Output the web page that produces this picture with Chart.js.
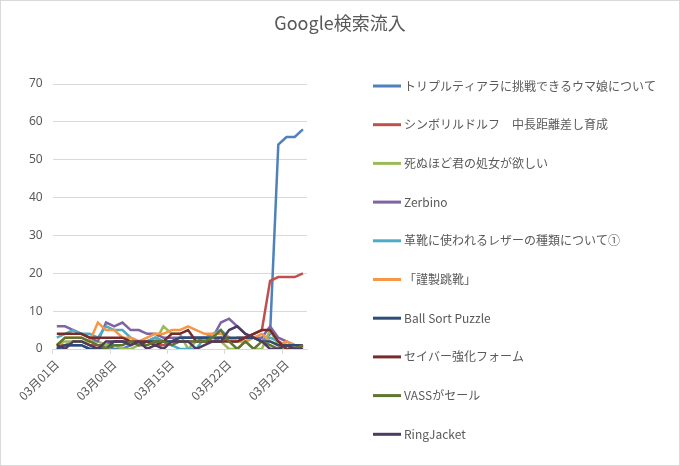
<!DOCTYPE html>
<html lang="ja">
<head>
    <meta charset="UTF-8">
    <title>Google検索流入</title>
    <script src="https://cdn.jsdelivr.net/npm/chart.js"></script>
    <style>
        body { margin: 0; background: #fff; }
        #wrap { width: 680px; height: 466px; position: relative; box-sizing: border-box; border: 1px solid #d9d9d9; }
    </style>
</head>
<body>
    <div id="wrap"><canvas id="searchChart"></canvas></div>

    <script>
        // dates on the x axis
        var days = [];
        for (var d = 1; d <= 31; d++) days.push('03月' + (d < 10 ? '0' + d : d) + '日');

        var chartTitle = 'Google検索流入';

        var seriesNames = [
            'トリプルティアラに挑戦できるウマ娘について',
            'シンボリルドルフ　中長距離差し育成',
            '死ぬほど君の処女が欲しい',
            'Zerbino',
            '革靴に使われるレザーの種類について①',
            '「謹製跳靴」',
            'Ball Sort Puzzle',
            'セイバー強化フォーム',
            'VASSがセール',
            'RingJacket'
        ];
        var seriesColors = ['#4F81BD', '#C0504D', '#9BBB59', '#8064A2', '#4BACC6',
                            '#F79646', '#2C4D75', '#772C2A', '#5F7530', '#4D3B62'];

        var triple   = [0,1,1,1,0,0,1,0,0,1,2,2,3,2,2,3,3,3,3,2,3,2,2,3,3,2,4,54,56,56,58];
        var symboli  = [1,1,2,2,1,1,1,2,2,1,2,2,1,1,2,2,2,2,3,3,3,2,3,3,4,5,18,19,19,19,20];
        var shinu    = [1,2,2,2,2,2,1,1,0,0,1,2,2,6,4,4,0,2,2,2,2,0,0,2,0,0,5,1,0,0,0];
        var zerbino  = [6,6,5,4,3,2,7,6,7,5,5,4,4,3,3,3,3,3,3,3,7,8,6,4,3,3,6,3,2,1,0];
        var leather  = [3,4,5,4,4,3,6,5,5,3,2,2,3,2,1,0,0,0,3,4,5,3,2,2,3,2,3,2,1,1,1];
        var kinsei   = [1,3,3,3,2,7,5,5,3,3,2,3,4,4,5,5,6,5,4,4,4,3,2,2,3,4,2,1,2,1,1];
        var ballSort = [0,1,1,1,0,0,0,2,2,2,1,2,2,2,2,3,3,3,3,3,3,3,3,3,3,2,2,1,1,1,1];
        var saber    = [4,4,4,4,3,3,3,3,3,2,2,2,1,2,4,4,5,2,2,2,2,2,2,3,4,5,5,2,0,0,1];
        var vass     = [1,3,3,3,2,1,0,1,1,2,1,1,2,2,1,2,2,2,2,3,5,2,0,2,0,2,1,0,1,0,1];
        var ringJ    = [1,0,2,2,1,0,2,2,2,1,2,0,1,0,2,2,2,0,1,2,2,5,6,4,3,2,0,0,1,0,0];

        var allValues = [triple, symboli, shinu, zerbino, leather, kinsei, ballSort, saber, vass, ringJ];

        var yTicks = [0, 10, 20, 30, 40, 50, 60, 70];

        var datasets = allValues.map(function(vals, i) {
            return {
                label: seriesNames[i],
                data: vals,
                borderColor: seriesColors[i],
                backgroundColor: seriesColors[i],
                borderWidth: 2.5,
                pointRadius: 0,
                tension: 0,
                order: allValues.length - i  // later series on top, like the original
            };
        });

        // title across the whole canvas + legend to the right of the plot
        var sideLegend = {
            id: 'sideLegend',
            afterDraw: function(chart) {
                var ctx = chart.ctx;
                ctx.save();
                ctx.textBaseline = 'middle';
                ctx.fillStyle = '#595959';

                ctx.font = '18px "Noto Sans CJK JP", sans-serif';
                ctx.textAlign = 'center';
                ctx.fillText(chartTitle, chart.width / 2, 22);

                ctx.font = '12px "Noto Sans CJK JP", "Noto Sans", sans-serif';
                ctx.textAlign = 'left';
                chart.data.datasets.forEach(function(ds, i) {
                    var y = 85 + i * 38.7;
                    ctx.strokeStyle = ds.borderColor;
                    ctx.lineWidth = 3;
                    ctx.beginPath();
                    ctx.moveTo(372, y);
                    ctx.lineTo(400, y);
                    ctx.stroke();
                    ctx.fillText(ds.label, 403, y);
                });
                ctx.restore();
            }
        };

        var ctx = document.getElementById('searchChart').getContext('2d');
        var chart = new Chart(ctx, {
            type: 'line',
            data: { labels: days, datasets: datasets },
            plugins: [sideLegend],
            options: {
                responsive: true,
                maintainAspectRatio: false,
                animation: false,
                layout: { padding: { left: 18, right: 372, top: 83, bottom: 59 } },
                plugins: {
                    legend: { display: false },
                    tooltip: { enabled: false },
                    title: { display: false }
                },
                scales: {
                    x: {
                        offset: true,
                        grid: {
                            offset: true,
                            drawOnChartArea: false,
                            tickLength: 5,
                            color: function(c) { return c.index % 7 === 0 ? '#d9d9d9' : 'rgba(0,0,0,0)'; }
                        },
                        border: { color: '#d9d9d9' },
                        ticks: {
                            autoSkip: false,
                            maxRotation: 45,
                            minRotation: 45,
                            color: '#595959',
                            font: { size: 12, family: '"Noto Sans CJK JP", sans-serif' },
                            callback: function(v, i) { return i % 7 === 0 ? days[i] : ''; }
                        }
                    },
                    y: {
                        min: yTicks[0],
                        max: yTicks[yTicks.length - 1],
                        afterBuildTicks: function(axis) { axis.ticks = yTicks.map(function(v) { return { value: v }; }); },
                        grid: { color: '#d9d9d9', drawTicks: false },
                        border: { display: false },
                        ticks: {
                            padding: 10,
                            color: '#595959',
                            font: { size: 12, family: '"Noto Sans", sans-serif' }
                        }
                    }
                }
            }
        });
    </script>
</body>
</html>
